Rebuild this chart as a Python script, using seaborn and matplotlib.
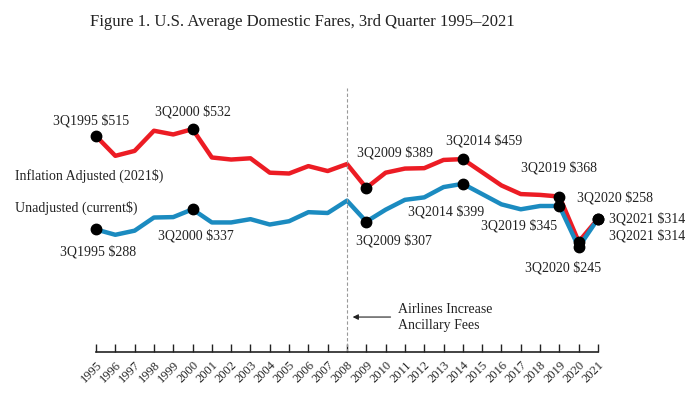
import numpy as np
import pandas as pd
import matplotlib
matplotlib.use("Agg")
import matplotlib.pyplot as plt
import seaborn as sns

# 3rd quarter average domestic fares, 1995-2021
years = list(range(1995, 2022))
adjusted = [515, 467, 479, 528, 519, 532, 463, 458, 461, 426, 424, 442, 430, 447,
            389, 426, 436, 437, 457, 459, 427, 395, 374, 372, 368, 258, 314]
unadjusted = [288, 275, 285, 317, 318, 337, 305, 305, 313, 300, 308, 330, 328, 358,
              307, 336, 360, 366, 391, 399, 374, 349, 337, 345, 345, 245, 314]

# highlighted points: (year, label offset in points, horizontal alignment)
adj_marks = [(1995, (-3.6, 11), "center"), (2000, (0, 12.5), "center"),
             (2009, (21, 25), "center"), (2014, (15, 13), "center"),
             (2019, (0, 20.5), "center"), (2020, (26, 31.5), "center"),
             (2021, (8, 0), "left")]
unadj_marks = [(1995, (1.4, -16), "center"), (2000, (2.2, -18.7), "center"),
               (2009, (20, -14), "center"), (2014, (-12, -20), "center"),
               (2019, (-29, -14.5), "center"), (2020, (-11, -14.6), "center"),
               (2021, (8, -12), "left")]

RED = "#ec1c24"
BLUE = "#1b8bc0"

df = pd.DataFrame({"year": years, "Inflation Adjusted (2021$)": adjusted,
                   "Unadjusted (current$)": unadjusted})

sns.set_style("white")
plt.rcParams["font.family"] = ["Liberation Serif", "DejaVu Serif"]

fig = plt.figure(figsize=(7.0, 3.97), dpi=100)
ax = fig.add_axes([96 / 700, 1 - 352 / 397, 502 / 700, 292 / 397])

sns.lineplot(data=df, x="year", y="Inflation Adjusted (2021$)", color=RED,
             linewidth=3.2, ax=ax, clip_on=False)
sns.lineplot(data=df, x="year", y="Unadjusted (current$)", color=BLUE,
             linewidth=3.2, ax=ax, clip_on=False)

for series, marks in ((adjusted, adj_marks), (unadjusted, unadj_marks)):
    for yr, off, ha in marks:
        val = series[years.index(yr)]
        ax.plot(yr, val, "o", color="black", markersize=7.5, zorder=5, clip_on=False)
        ax.annotate(f"3Q{yr} ${val}", xy=(yr, val), xytext=off,
                    textcoords="offset points", ha=ha, va="center",
                    fontsize=10, color="#222222", annotation_clip=False)

ax.set_xlim(1995, 2021)
ax.set_ylim(-10, 700)
ax.vlines(2008, -10, 632, colors="#999999", linestyles=(0, (3, 2)), linewidth=0.8)

ax.annotate("", xy=(2008.15, 75), xytext=(2010.4, 75),
            arrowprops=dict(arrowstyle="-|>", color="#222222", lw=0.8,
                            mutation_scale=8))
ax.text(2010.65, 74, "Airlines Increase\nAncillary Fees", ha="left", va="center",
        fontsize=10, color="#222222", linespacing=1.3)

fig.text(15 / 700, 1 - 176 / 397, "Inflation Adjusted (2021$)", ha="left",
         va="center", fontsize=10, color="#222222")
fig.text(15 / 700, 1 - 208 / 397, "Unadjusted (current$)", ha="left",
         va="center", fontsize=10, color="#222222")
fig.text(302 / 700, 1 - 22 / 397, "Figure 1. U.S. Average Domestic Fares, 3rd Quarter 1995\u20132021",
         ha="center", va="center", fontsize=12, color="#222222")

ax.set_xticks(years)
ax.set_xticklabels([str(y) for y in years], rotation=45, ha="right",
                   rotation_mode="anchor", fontsize=9)
ax.tick_params(axis="x", which="major", bottom=True, direction="in", length=6,
               width=1, color="#222222", pad=5)
ax.set_yticks([])
ax.set_xlabel("")
ax.set_ylabel("")
for side in ("top", "left", "right"):
    ax.spines[side].set_visible(False)
ax.spines["bottom"].set_color("#222222")
ax.spines["bottom"].set_linewidth(1.2)

fig.savefig("out.png", dpi=100)
